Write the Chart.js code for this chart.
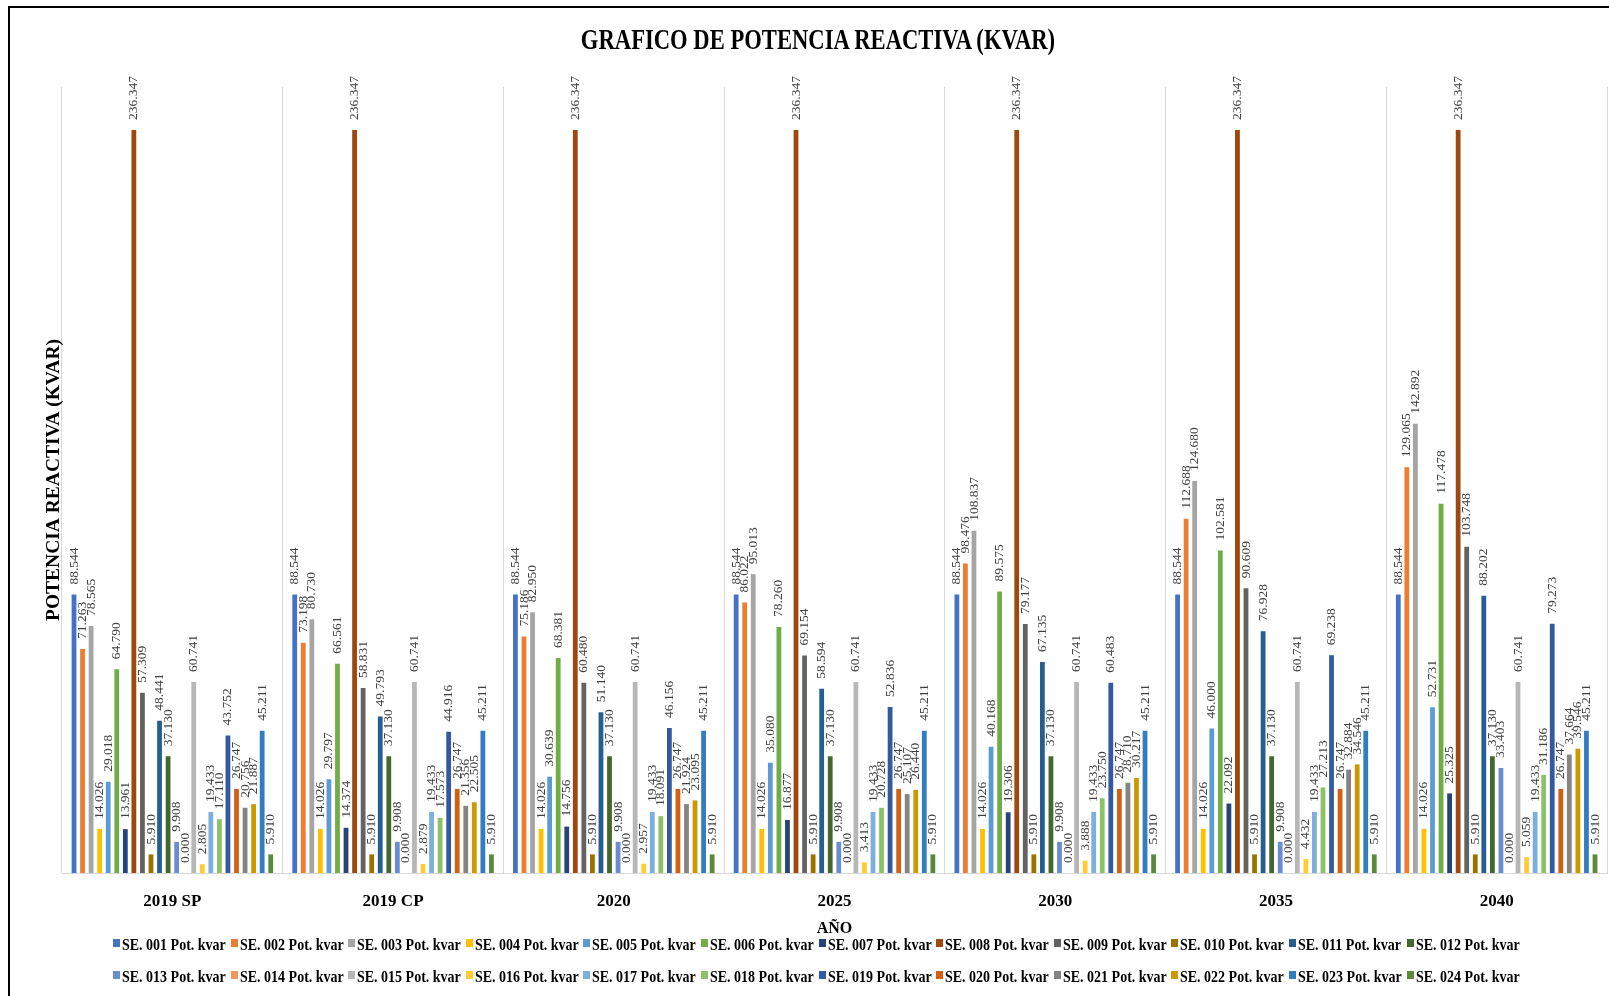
<!DOCTYPE html>
<html lang="es">
<head>
<meta charset="utf-8">
<title>Gráfico de potencia reactiva</title>
<script src="https://cdn.jsdelivr.net/npm/chart.js@4.4.1/dist/chart.umd.min.js"></script>
<style>
  html, body { margin: 0; padding: 0; background: #fff; }
  #wrap { position: relative; width: 1609px; height: 996px; overflow: hidden; background: #fff; }
  #chart { position: absolute; left: 0; top: 0; }
  .frame-top { position: absolute; left: 8px; top: 6px; right: 0; height: 2px; background: #000; }
  .frame-left { position: absolute; left: 8px; top: 6px; bottom: 0; width: 2px; background: #000; }
  #title {
    position: absolute; left: 818px; top: 22px; white-space: nowrap;
    font: bold 29px "Liberation Serif", "Times New Roman", serif; line-height: 34px; color: #000;
    transform: translateX(-50%) scaleX(0.78);
  }
  .lg-item { position: absolute; height: 20px; white-space: nowrap; }
  .lg-box { position: absolute; left: 0; top: 5px; width: 7px; height: 8px; }
  .lg-text {
    position: absolute; left: 9px; top: 0; display: inline-block;
    font: bold 17.5px "Liberation Serif", "Times New Roman", serif; line-height: 20px; color: #000;
    transform: scaleX(0.8); transform-origin: left center;
  }
</style>
</head>
<body>
<div id="wrap">
  <canvas id="chart" width="1609" height="996"></canvas>
  <div class="frame-top"></div>
  <div class="frame-left"></div>
  <div id="title">GRAFICO DE POTENCIA REACTIVA (KVAR)</div>
  <div id="legend"></div>
</div>
<script>
// Años del estudio
const categories = ['2019 SP', '2019 CP', '2020', '2025', '2030', '2035', '2040'];

// Potencia reactiva por subestación (kvar)
const se001 = [88.544, 88.544, 88.544, 88.544, 88.544, 88.544, 88.544];
const se002 = [71.263, 73.198, 75.186, 86.022, 98.476, 112.688, 129.065];
const se003 = [78.565, 80.730, 82.950, 95.013, 108.837, 124.680, 142.892];
const se004 = [14.026, 14.026, 14.026, 14.026, 14.026, 14.026, 14.026];
const se005 = [29.018, 29.797, 30.639, 35.080, 40.168, 46.000, 52.731];
const se006 = [64.790, 66.561, 68.381, 78.260, 89.575, 102.581, 117.478];
const se007 = [13.961, 14.374, 14.756, 16.877, 19.306, 22.092, 25.325];
const se008 = [236.347, 236.347, 236.347, 236.347, 236.347, 236.347, 236.347];
const se009 = [57.309, 58.831, 60.480, 69.154, 79.177, 90.609, 103.748];
const se010 = [5.910, 5.910, 5.910, 5.910, 5.910, 5.910, 5.910];
const se011 = [48.441, 49.793, 51.140, 58.594, 67.135, 76.928, 88.202];
const se012 = [37.130, 37.130, 37.130, 37.130, 37.130, 37.130, 37.130];
const se013 = [9.908, 9.908, 9.908, 9.908, 9.908, 9.908, 33.403];
const se014 = [0.000, 0.000, 0.000, 0.000, 0.000, 0.000, 0.000];
const se015 = [60.741, 60.741, 60.741, 60.741, 60.741, 60.741, 60.741];
const se016 = [2.805, 2.879, 2.957, 3.413, 3.888, 4.432, 5.059];
const se017 = [19.433, 19.433, 19.433, 19.433, 19.433, 19.433, 19.433];
const se018 = [17.110, 17.573, 18.091, 20.728, 23.750, 27.213, 31.186];
const se019 = [43.752, 44.916, 46.156, 52.836, 60.483, 69.238, 79.273];
const se020 = [26.747, 26.747, 26.747, 26.747, 26.747, 26.747, 26.747];
const se021 = [20.756, 21.356, 21.924, 25.107, 28.710, 32.884, 37.664];
const se022 = [21.887, 22.505, 23.095, 26.440, 30.217, 34.546, 39.546];
const se023 = [45.211, 45.211, 45.211, 45.211, 45.211, 45.211, 45.211];
const se024 = [5.910, 5.910, 5.910, 5.910, 5.910, 5.910, 5.910];

const seriesNames = [
  'SE. 001 Pot. kvar', 'SE. 002 Pot. kvar', 'SE. 003 Pot. kvar', 'SE. 004 Pot. kvar',
  'SE. 005 Pot. kvar', 'SE. 006 Pot. kvar', 'SE. 007 Pot. kvar', 'SE. 008 Pot. kvar',
  'SE. 009 Pot. kvar', 'SE. 010 Pot. kvar', 'SE. 011 Pot. kvar', 'SE. 012 Pot. kvar',
  'SE. 013 Pot. kvar', 'SE. 014 Pot. kvar', 'SE. 015 Pot. kvar', 'SE. 016 Pot. kvar',
  'SE. 017 Pot. kvar', 'SE. 018 Pot. kvar', 'SE. 019 Pot. kvar', 'SE. 020 Pot. kvar',
  'SE. 021 Pot. kvar', 'SE. 022 Pot. kvar', 'SE. 023 Pot. kvar', 'SE. 024 Pot. kvar'
];
const seriesValues = [
  se001, se002, se003, se004, se005, se006, se007, se008, se009, se010, se011, se012,
  se013, se014, se015, se016, se017, se018, se019, se020, se021, se022, se023, se024
];

// Paleta de Office para las 24 series
const seriesColors = [
  '#4472C4', '#ED7D31', '#A5A5A5', '#FFC000', '#5B9BD5', '#70AD47',
  '#264478', '#9E480E', '#636363', '#997300', '#255E91', '#43682B',
  '#698ED0', '#F1975A', '#B7B7B7', '#FFCD33', '#7CAFDD', '#8CC168',
  '#335AA1', '#D26012', '#848484', '#CC9A00', '#327DC2', '#5A8A39'
];

const serif = '"Liberation Serif", "Times New Roman", serif';

// Etiquetas de valor verticales sobre cada barra
const barValueLabels = {
  id: 'barValueLabels',
  afterDatasetsDraw(chart) {
    const ctx = chart.ctx;
    ctx.save();
    ctx.font = '13.5px ' + serif;
    ctx.fillStyle = '#404040';
    ctx.textAlign = 'left';
    ctx.textBaseline = 'middle';
    chart.data.datasets.forEach((ds, di) => {
      const meta = chart.getDatasetMeta(di);
      meta.data.forEach((bar, i) => {
        ctx.save();
        ctx.translate(bar.x, bar.y - 10);
        ctx.rotate(-Math.PI / 2);
        ctx.fillText(ds.data[i].toFixed(3), 0, 0);
        ctx.restore();
      });
    });
    ctx.restore();
  }
};

const chart = new Chart(document.getElementById('chart'), {
  type: 'bar',
  data: {
    labels: categories,
    datasets: seriesValues.map((vals, i) => ({
      label: seriesNames[i],
      data: vals,
      backgroundColor: seriesColors[i],
      borderWidth: 0,
      categoryPercentage: 0.93,
      barPercentage: 0.56
    }))
  },
  options: {
    responsive: false,
    animation: false,
    devicePixelRatio: 1,
    layout: { padding: { top: 87, left: 42, right: 2, bottom: 58 } },
    plugins: {
      legend: { display: false },
      title: { display: false },
      tooltip: { enabled: false }
    },
    scales: {
      x: {
        grid: { color: '#d9d9d9', drawTicks: false, lineWidth: 1 },
        border: { color: '#d9d9d9' },
        ticks: { color: '#000', padding: 18, font: { family: serif, size: 17, weight: 'bold' } },
        title: { display: true, text: 'AÑO', color: '#000', padding: 0, font: { family: serif, size: 16, weight: 'bold' } },
        afterFit(scale) { scale.height = 65; }
      },
      y: {
        min: 0,
        max: 250,
        grid: { display: false },
        border: { display: false },
        ticks: { display: false },
        title: { display: true, text: 'POTENCIA REACTIVA (KVAR)', color: '#000', padding: 0, font: { family: serif, size: 19.5, weight: 'bold' } },
        afterFit(scale) { scale.width = 20; }
      }
    }
  },
  plugins: [barValueLabels]
});

// Leyenda en dos filas de doce series
const legend = document.getElementById('legend');
seriesNames.forEach((name, i) => {
  const row = Math.floor(i / 12);
  const col = i % 12;
  const item = document.createElement('div');
  item.className = 'lg-item';
  item.style.left = (113 + col * 117.6) + 'px';
  item.style.top = (934 + row * 32) + 'px';
  const box = document.createElement('span');
  box.className = 'lg-box';
  box.style.background = seriesColors[i];
  const txt = document.createElement('span');
  txt.className = 'lg-text';
  txt.textContent = name;
  item.appendChild(box);
  item.appendChild(txt);
  legend.appendChild(item);
});
</script>
</body>
</html>
